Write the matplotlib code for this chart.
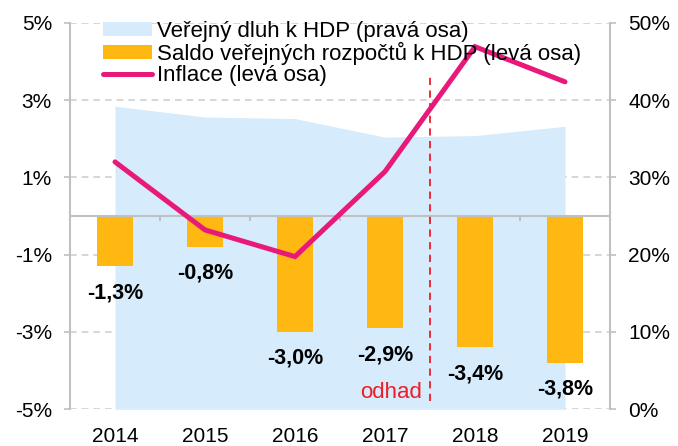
import matplotlib
matplotlib.use("Agg")
import matplotlib.pyplot as plt
from matplotlib.patches import Patch
from matplotlib.lines import Line2D

plt.rcParams['font.family'] = ['Liberation Sans', 'DejaVu Sans']

# data
years = ["2014", "2015", "2016", "2017", "2018", "2019"]
saldo = [-1.3, -0.8, -3.0, -2.9, -3.4, -3.8]          # % of GDP, left axis
saldo_labels = ["-1,3%", "-0,8%", "-3,0%", "-2,9%", "-3,4%", "-3,8%"]
inflace = [1.40, -0.36, -1.05, 1.15, 4.38, 3.47]      # %, left axis
dluh = [39.2, 37.8, 37.6, 35.2, 35.4, 36.6]           # % of GDP, right axis

left_ticks = [-5, -3, -1, 1, 3, 5]
right_ticks = [0, 10, 20, 30, 40, 50]

AREA = "#d6ebfb"
BAR = "#ffb812"
LINE = "#e8197a"
GRID = "#d0d0d0"
SPINE = "#c0c0c0"
FS = 15

fig = plt.figure(figsize=(6.78, 4.46), dpi=100)
ax = fig.add_axes([70/678, 1 - 409.3/446, 540/678, 386.6/446])
ax2 = ax.twinx()
x = list(range(len(years)))

# right axis: debt area + grid (drawn underneath)
ax2.fill_between(x, 0, dluh, color=AREA, lw=0, zorder=1)
ax2.set_ylim(0, 50)
ax2.set_yticks(right_ticks)
ax2.set_yticklabels([f"{t}%" for t in right_ticks])
ax2.grid(axis='y', color=GRID, ls=(0, (4, 3)), lw=1.2, zorder=0)
ax2.set_axisbelow(True)

# left axis on top
ax.set_zorder(ax2.get_zorder() + 1)
ax.patch.set_visible(False)
ax2.patch.set_visible(True)
ax2.patch.set_facecolor("white")

ax.bar(x, saldo, width=0.4, color=BAR, zorder=2)
ax.axhline(0, color=SPINE, lw=1.5, zorder=2.5)
ax.vlines([i + 0.5 for i in x[:-1]], -0.12, 0, color=SPINE, lw=1.5, zorder=2.5)
ax.plot(x, inflace, color=LINE, lw=3.6, solid_capstyle='round', solid_joinstyle='miter', zorder=4)

for xi, v, lab in zip(x, saldo, saldo_labels):
    ax.annotate(lab, (xi, v), xytext=(0, -19), textcoords='offset points',
                ha='center', va='center', fontsize=FS + 0.5, fontweight='bold', zorder=5)

# forecast divider
ax.vlines(3.5, -4.78, 3.6, color="#ee1c25", lw=1.3, ls=(0, (4, 3)), zorder=3)
ax.text(3.41, -4.57, "odhad", color="#ee1c25", fontsize=FS + 1, ha='right', va='center')

ax.set_xlim(-0.5, 5.5)
ax.set_ylim(-5, 5)
ax.set_yticks(left_ticks)
ax.set_yticklabels([f"{t}%" for t in left_ticks])
ax.set_xticks(x)
ax.set_xticklabels(years)

for a in (ax, ax2):
    for s in ("top", "bottom"):
        a.spines[s].set_visible(False)
    a.tick_params(labelsize=FS, colors="black")
ax.spines["left"].set_color(SPINE)
ax.spines["left"].set_linewidth(1.5)
ax.spines["right"].set_visible(False)
ax2.spines["left"].set_visible(False)
ax2.spines["right"].set_color(SPINE)
ax2.spines["right"].set_linewidth(1.5)
ax.tick_params(axis='y', length=4, width=1.2, color=SPINE, pad=9)
ax.tick_params(axis='x', length=0, pad=13)
ax2.tick_params(axis='y', length=4, width=1.2, color=SPINE, pad=9)

handles = [Patch(color=AREA, lw=0), Patch(color=BAR, lw=0),
           Line2D([0], [0], color=LINE, lw=3.6, solid_capstyle='round')]
labels = ["Veřejný dluh k HDP (pravá osa)",
          "Saldo veřejných rozpočtů k HDP (levá osa)",
          "Inflace (levá osa)"]
ax.legend(handles, labels, loc='upper left', bbox_to_anchor=(0.044, 1.027),
          frameon=False, fontsize=FS + 1, handlelength=2.2, handleheight=0.6,
          handletextpad=0.25, labelspacing=0.0, borderaxespad=0)

fig.savefig("out.png", dpi=100, facecolor="white")
